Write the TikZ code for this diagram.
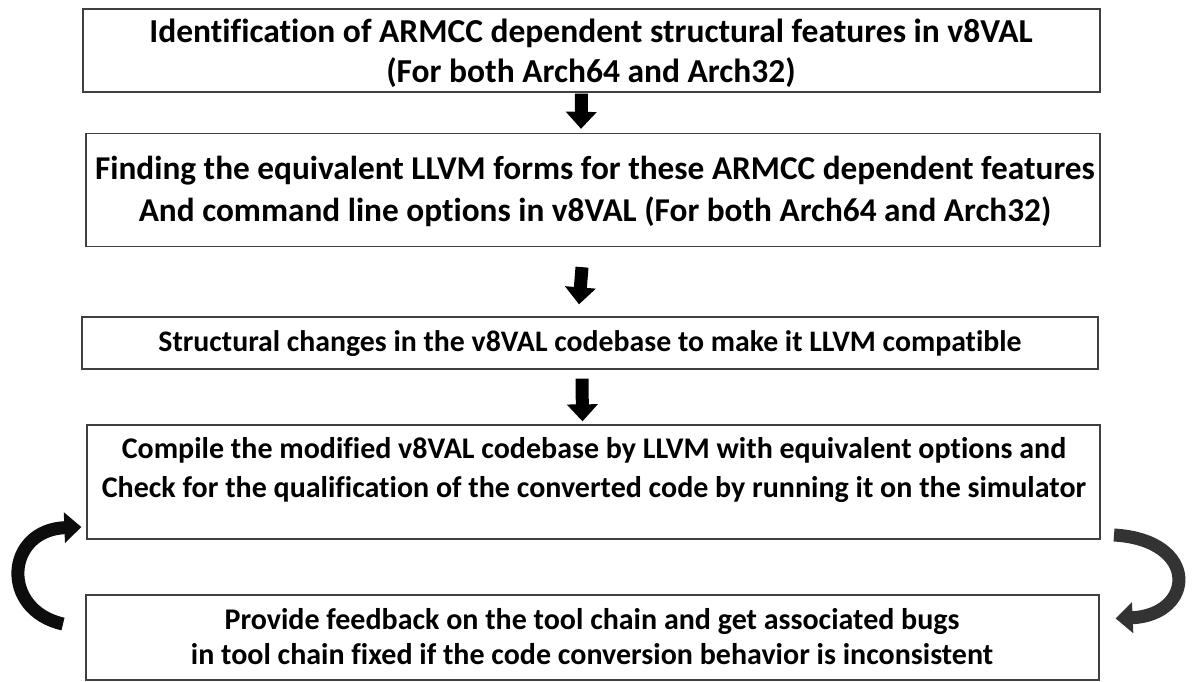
\documentclass[tikz,border=0pt]{standalone}
\usepackage{fontspec}
\setmainfont{Carlito}[Ligatures=NoCommon]
\usetikzlibrary{arrows.meta}
\definecolor{boxline}{HTML}{404040}
\definecolor{darkarrow}{HTML}{333333}
\tikzset{
  box/.style={draw=boxline, line width=1.3pt, inner sep=0pt},
  txt/.style={align=center, inner sep=0pt, font=\bfseries},
  blockarrow/.style={line width=13pt, -{Triangle[width=30pt,length=17pt]}},
  curvearrow/.style={line width=13pt, -{Triangle[width=30pt,length=17pt]}}
}
\begin{document}
\begin{tikzpicture}[x=1pt,y=-1pt]
\useasboundingbox (0,0) rectangle (1193,682);
% boxes
\node[box, minimum width=1017pt, minimum height=83pt] (b1) at (591.5,50.5) {};
\node[box, minimum width=1014pt, minimum height=113pt] (b2) at (593,190) {};
\node[box, minimum width=1016pt, minimum height=52pt] (b3) at (590,343) {};
\node[box, minimum width=1013pt, minimum height=114pt] (b4) at (593.5,482) {};
\node[box, minimum width=1013pt, minimum height=85pt] (b5) at (592.5,637.5) {};
% texts
\node[txt, font=\bfseries\fontsize{33.5}{40}\selectfont] (t1) at (591,53)
  {Identification of ARMCC dependent structural features in v8VAL\\(For both Arch64 and Arch32)};
\node[txt, font=\bfseries\fontsize{33.3}{42}\selectfont] (t2) at (595,191)
  {Finding the equivalent LLVM forms for these ARMCC dependent features\\And command line options in v8VAL (For both Arch64 and Arch32)};
\node[txt, font=\bfseries\fontsize{29.8}{30}\selectfont] (t3) at (590,344)
  {Structural changes in the v8VAL codebase to make it LLVM compatible};
\node[txt, font=\bfseries\fontsize{30}{39}\selectfont] (t4) at (594,470)
  {Compile the modified v8VAL codebase by LLVM with equivalent options and\\Check for the qualification of the converted code by running it on the simulator};
\node[txt, font=\bfseries\fontsize{30}{35}\selectfont] (t5) at (592,637)
  {Provide feedback on the tool chain and get associated bugs\\in tool chain fixed if the code conversion behavior is inconsistent};
% straight block arrows
\draw[blockarrow] ([xshift=-10pt,yshift=-1pt]b1.south) -- ([xshift=-12pt,yshift=4pt]b2.north);
\draw[blockarrow] ([xshift=-11pt,yshift=-20pt]b2.south) -- ([xshift=-11pt,yshift=12pt]b3.north);
\draw[blockarrow] ([xshift=-8pt,yshift=-9pt]b3.south) -- ([xshift=-11pt,yshift=3pt]b4.north);
% curved arrows
\coordinate (lt) at (63,624);
\coordinate (rt) at (1114,535);
\draw[curvearrow, black!95] (lt) .. controls (0,610) and (5,530) .. ([xshift=-5pt,yshift=-45pt]b4.west);
\draw[curvearrow, darkarrow] (rt) .. controls (1200,540) and (1195,615) .. ([xshift=16pt,yshift=19pt]b5.east);
\end{tikzpicture}
\end{document}
